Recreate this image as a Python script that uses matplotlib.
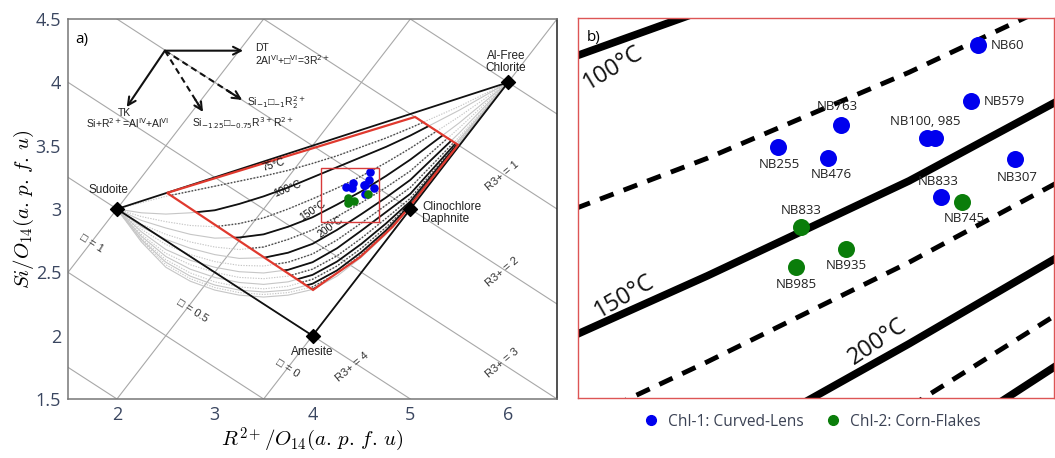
import matplotlib.pyplot as plt
from matplotlib import font_manager
from matplotlib.lines import Line2D
from matplotlib.patches import Polygon, Rectangle

names = {f.name for f in font_manager.fontManager.ttflist}
narrow = 'Liberation Sans Narrow' if 'Liberation Sans Narrow' in names else 'Open Sans'
plt.rcParams['font.family'] = [narrow, 'DejaVu Sans']

# ---- data (R2+ and Si in a.p.f.u., O14 basis) ----
end_names = ['Sudoite', 'Al-Free\nChlorite', 'Clinochlore\nDaphnite', 'Amesite']
end_r2 = [2.0, 6.0, 5.0, 4.0]
end_si = [3.0, 4.0, 3.0, 2.0]

# calibration domain (red outline)
red_r2 = [2.512, 5.048, 5.488, 4.966, 4.82, 4.486, 4.148, 4.005]
red_si = [3.127, 3.727, 3.506, 2.993, 2.86, 2.62, 2.44, 2.361]

# isotherms, Si read at these R2 positions
r2_grid = [2.0, 2.25, 2.5, 2.75, 3.0, 3.25, 3.5, 3.75, 4.0, 4.25, 4.5, 4.75, 5.0, 5.5, 6.0]
si_75 = [3.0, 3.05, 3.10, 3.14, 3.18, 3.22, 3.26, 3.305, 3.36, 3.42, 3.49, 3.56, 3.64, 3.81, 4.0]
si_100 = [3.0, 2.97, 2.96, 2.97, 2.99, 3.04, 3.10, 3.17, 3.25, 3.33, 3.41, 3.49, 3.58, 3.78, 4.0]
si_125 = [3.0, 2.94, 2.90, 2.87, 2.86, 2.885, 2.93, 3.00, 3.08, 3.165, 3.26, 3.365, 3.48, 3.73, 4.0]
si_150 = [3.0, 2.91, 2.85, 2.80, 2.77, 2.775, 2.80, 2.86, 2.935, 3.035, 3.14, 3.26, 3.39, 3.68, 4.0]
si_175 = [3.0, 2.88, 2.80, 2.74, 2.70, 2.68, 2.70, 2.76, 2.835, 2.94, 3.05, 3.17, 3.30, 3.64, 4.0]
si_200 = [3.0, 2.86, 2.76, 2.69, 2.64, 2.61, 2.615, 2.655, 2.725, 2.835, 2.96, 3.09, 3.23, 3.60, 4.0]
si_225 = [3.0, 2.84, 2.72, 2.64, 2.585, 2.555, 2.55, 2.58, 2.645, 2.755, 2.89, 3.03, 3.17, 3.57, 4.0]
si_250 = [3.0, 2.82, 2.68, 2.595, 2.54, 2.505, 2.495, 2.52, 2.58, 2.69, 2.83, 2.975, 3.12, 3.55, 4.0]
si_275 = [3.0, 2.80, 2.65, 2.56, 2.50, 2.46, 2.45, 2.47, 2.525, 2.63, 2.77, 2.925, 3.085, 3.54, 4.0]
si_300 = [3.0, 2.785, 2.625, 2.525, 2.46, 2.42, 2.405, 2.425, 2.48, 2.585, 2.725, 2.885, 3.06, 3.53, 4.0]
si_325 = [3.0, 2.77, 2.60, 2.495, 2.425, 2.385, 2.37, 2.39, 2.445, 2.55, 2.69, 2.855, 3.045, 3.52, 4.0]
si_350 = [3.0, 2.76, 2.58, 2.47, 2.40, 2.36, 2.345, 2.36, 2.41, 2.515, 2.66, 2.83, 3.035, 3.513, 4.0]
si_375 = [3.0, 2.75, 2.56, 2.45, 2.38, 2.34, 2.325, 2.34, 2.385, 2.49, 2.64, 2.815, 3.025, 3.507, 4.0]
si_400 = [3.0, 2.74, 2.54, 2.43, 2.36, 2.32, 2.305, 2.32, 2.365, 2.47, 2.62, 2.80, 3.015, 3.50, 4.0]
isotherms = [(75, si_75), (100, si_100), (125, si_125), (150, si_150), (175, si_175),
             (200, si_200), (225, si_225), (250, si_250), (275, si_275), (300, si_300),
             (325, si_325), (350, si_350), (375, si_375), (400, si_400)]

# Chl-1 (curved lens) and Chl-2 (corn flakes) analyses
chl1_names = ['NB60', 'NB579', 'NB763', 'NB255', 'NB476', 'NB100, 985', '', 'NB307', 'NB833']
chl1_r2 = [4.585, 4.577, 4.415, 4.337, 4.400, 4.522, 4.532, 4.631, 4.539]
chl1_si = [3.290, 3.228, 3.202, 3.177, 3.165, 3.187, 3.187, 3.164, 3.122]
chl2_names = ['NB833', 'NB745', 'NB935', 'NB985']
chl2_r2 = [4.366, 4.565, 4.422, 4.360]
chl2_si = [3.089, 3.117, 3.065, 3.045]

vac_levels = [0, 0.5, 1]
r3_levels = [0, 1, 2, 3, 4, 5, 6]
zoom_box = [4.09, 4.68, 2.90, 3.32]

# label offsets (points) for sample names in panel b
chl1_off = [(9, 0), (9, 0), (-2, 13), (1, -12), (2, -12), (-1, 12), (0, 0), (2, -13), (-2, 11)]
chl2_off = [(0, 12), (2, -12), (0, -12), (0, -13)]

fig = plt.figure(figsize=(10.55, 4.58), dpi=100)
ax = fig.add_axes([0.0645, 0.1288, 0.4635, 0.8297])
axb = fig.add_axes([0.548, 0.131, 0.4515, 0.8297])

# ---------------- panel a ----------------
ax.set_xlim(1.5, 6.5)
ax.set_ylim(1.5, 4.5)
ax.set_xticks([2, 3, 4, 5, 6])
ax.set_yticks([1.5, 2, 2.5, 3, 3.5, 4, 4.5])
ax.set_yticklabels(['1.5', '2', '2.5', '3', '3.5', '4', '4.5'])
ax.tick_params(length=0, labelsize=13, colors='#3a4660', pad=5)
for s in ax.spines.values():
    s.set_color('#777777')
    s.set_linewidth(1.1)
ax.spines['right'].set_color('#222222')

# vacancy / R3+ grid
for v in vac_levels:
    ax.axline((2, 3 * v), slope=1, color='#a8a8a8', lw=0.8, zorder=1)
for r in r3_levels:
    ax.axline((0, 7 - 0.75 * r), slope=-0.5, color='#a8a8a8', lw=0.8, zorder=1)

red_poly = Polygon(list(zip(red_r2, red_si)), closed=True, fill=False,
                   ec='#e0392e', lw=1.6, zorder=5)
ax.add_patch(red_poly)

for t, si in isotherms:
    solid = t % 50 == 0
    ls = '-' if solid else (0, (1.2, 1.2))
    ax.plot(r2_grid, si, color='#c6c6c6', lw=0.8, ls=ls, zorder=2)
    ln, = ax.plot(r2_grid, si, color='#111111' if solid else '#4a4a4a',
                  lw=1.3 if solid else 1.0, ls=ls, zorder=3)
    ln.set_clip_path(red_poly)

ax.plot(end_r2 + end_r2[:1], end_si + end_si[:1], color='#111111', lw=1.3, zorder=4)
ax.scatter(end_r2, end_si, marker='D', s=50, c='black', zorder=6)

lab_kw = dict(fontsize=8.5, color='#222222', family=['Liberation Sans', 'DejaVu Sans'],
              zorder=7, linespacing=0.95)
ax.text(1.91, 3.15, end_names[0], ha='center', va='center', **lab_kw)
ax.text(5.98, 4.16, end_names[1], ha='center', va='center', **lab_kw)
ax.text(5.12, 2.97, end_names[2], ha='left', va='center', **lab_kw)
ax.text(4.0, 1.87, end_names[3], ha='center', va='center', **lab_kw)

grid_kw = dict(fontsize=8, color='#333333', family=['Liberation Sans', 'DejaVu Sans'],
               ha='center', va='center', zorder=7)
ax.text(1.745, 2.73, '□ = 1', rotation=-32, **grid_kw)
ax.text(2.77, 2.20, '□ = 0.5', rotation=-32, **grid_kw)
ax.text(3.74, 1.74, '□ = 0', rotation=-32, **grid_kw)
ax.text(4.41, 1.75, 'R3+ = 4', rotation=40, **grid_kw)
ax.text(5.94, 3.26, 'R3+ = 1', rotation=40, **grid_kw)
ax.text(5.94, 2.50, 'R3+ = 2', rotation=40, **grid_kw)
ax.text(5.94, 1.785, 'R3+ = 3', rotation=40, **grid_kw)

temp_kw = dict(fontsize=7.5, color='#111111', family=['Liberation Sans', 'DejaVu Sans'],
               ha='center', va='center', zorder=7)
ax.text(3.60, 3.35, '75°C', rotation=17, **temp_kw)
ax.text(3.74, 3.16, '100°C', rotation=22, **temp_kw)
ax.text(4.00, 2.99, '150°C', rotation=33, **temp_kw)
ax.text(4.18, 2.86, '200°C', rotation=36, **temp_kw)

# substitution vectors
vec_origin = (2.49, 4.25)
dt_end = (3.29, 4.25)
tk_end = (2.10, 3.805)
d1_end = (2.88, 3.766)
d2_end = (3.28, 3.861)
for end, dashed in [(dt_end, False), (tk_end, False), (d1_end, True), (d2_end, True)]:
    if dashed:
        ax.plot([vec_origin[0], end[0]], [vec_origin[1], end[1]], color='#111111',
                lw=1.5, ls=(0, (3, 2)), zorder=6)
        start = (vec_origin[0] + 0.8 * (end[0] - vec_origin[0]),
                 vec_origin[1] + 0.8 * (end[1] - vec_origin[1]))
    else:
        start = vec_origin
    ax.annotate('', xy=end, xytext=start, zorder=6,
                arrowprops=dict(arrowstyle='->', lw=1.5, color='#111111',
                                shrinkA=0, shrinkB=0, mutation_scale=14))

vec_kw = dict(fontsize=7.5, color='#222222', family=['Liberation Sans', 'DejaVu Sans'],
              math_fontfamily='dejavusans', zorder=7)
ax.text(3.41, 4.27, 'DT', ha='left', va='center', **vec_kw)
ax.text(3.41, 4.175, r'2Al$^{\mathrm{VI}}$+□$^{\mathrm{VI}}$=3R$^{2+}$', ha='left', va='center', **vec_kw)
ax.text(2.08, 3.76, 'TK', ha='center', va='center', **vec_kw)
ax.text(2.11, 3.68, r'Si+R$^{2+}$=Al$^{\mathrm{IV}}$+Al$^{\mathrm{VI}}$', ha='center', va='center', **vec_kw)
ax.text(2.77, 3.68, r'Si$_{-1.25}$□$_{-0.75}$R$^{3+}$R$^{2+}$', ha='left', va='center', **vec_kw)
ax.text(3.33, 3.84, r'Si$_{-1}$□$_{-1}$R$_2^{2+}$', ha='left', va='center', **vec_kw)

ax.scatter(chl1_r2, chl1_si, s=38, c='#0000ee', zorder=8, lw=0)
ax.scatter(chl2_r2, chl2_si, s=38, c='#0a7d0a', zorder=8, lw=0)
ax.add_patch(Rectangle((zoom_box[0], zoom_box[2]), zoom_box[1] - zoom_box[0],
                       zoom_box[3] - zoom_box[2], fill=False, ec='#d83a3a', lw=1.0, zorder=9))

ax.text(0.015, 0.965, 'a)', transform=ax.transAxes, fontsize=11, ha='left', va='top')
ax.set_xlabel(r'$R^{2+}/O_{14}(a.\,p.\,f.\,u)$', fontsize=15, math_fontfamily='cm', labelpad=1)
ax.set_ylabel(r'$Si/O_{14}(a.\,p.\,f.\,u)$', fontsize=15, math_fontfamily='cm', labelpad=0)

# ---------------- panel b (zoom) ----------------
axb.set_xlim(zoom_box[0], zoom_box[1])
axb.set_ylim(zoom_box[2], zoom_box[3])
axb.set_xticks([])
axb.set_yticks([])
for s in axb.spines.values():
    s.set_color('#dd5555')
    s.set_linewidth(1.0)

for t, si in isotherms:
    if t % 50 == 0:
        axb.plot(r2_grid, si, color='black', lw=5.5, solid_capstyle='butt', zorder=2)
    else:
        axb.plot(r2_grid, si, color='black', lw=3.5, ls=(0, (3, 2.2)),
                 dash_capstyle='butt', zorder=2)

tb_kw = dict(fontsize=17, color='#111111', ha='center', va='center', zorder=3)
axb.text(4.133, 3.265, '100°C', rotation=31, **tb_kw)
axb.text(4.147, 3.012, '150°C', rotation=30, **tb_kw)
axb.text(4.461, 2.962, '200°C', rotation=34, **tb_kw)

axb.scatter(chl1_r2, chl1_si, s=150, c='#0000ee', lw=0, zorder=4)
axb.scatter(chl2_r2, chl2_si, s=150, c='#0a7d0a', lw=0, zorder=4)
for name, x, y, off in zip(chl1_names, chl1_r2, chl1_si, chl1_off):
    if name:
        axb.annotate(name, (x, y), xytext=off, textcoords='offset points',
                     ha='left' if off[0] > 5 else 'center', va='center',
                     fontsize=9.5, color='#222222', zorder=5)
for name, x, y, off in zip(chl2_names, chl2_r2, chl2_si, chl2_off):
    axb.annotate(name, (x, y), xytext=off, textcoords='offset points',
                 ha='center', va='center', fontsize=9.5, color='#222222', zorder=5)
axb.text(0.018, 0.968, 'b)', transform=axb.transAxes, fontsize=11, ha='left', va='top')

handles = [Line2D([], [], marker='o', ls='', color='#0000ee', ms=7),
           Line2D([], [], marker='o', ls='', color='#0a7d0a', ms=7)]
fig.legend(handles, ['Chl-1: Curved-Lens', 'Chl-2: Corn-Flakes'], loc='center',
           bbox_to_anchor=(0.766, 0.079), ncol=2, frameon=False, fontsize=11.2,
           handletextpad=0.1, columnspacing=0.9, labelcolor='#3b4254')

fig.savefig('out.png', dpi=100)
